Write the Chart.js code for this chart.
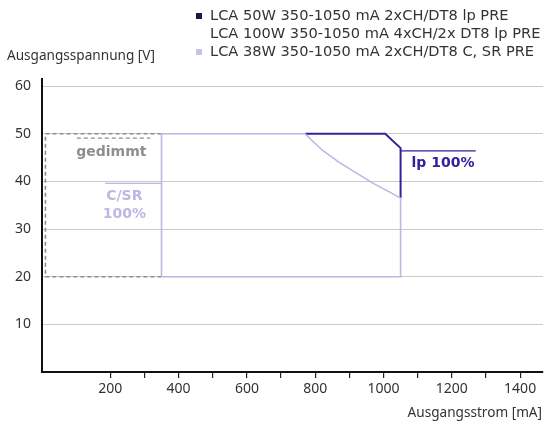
<!DOCTYPE html>
<html>
<head>
<meta charset="utf-8">
<script src="https://cdn.jsdelivr.net/npm/chart.js@4/dist/chart.umd.min.js"></script>
<style>
  body { margin: 0; background: #fff; }
  #wrap { width: 544px; height: 423px; position: relative; }
</style>
</head>
<body>
<div id="wrap"><canvas id="ivChart"></canvas></div>
<script>
// series values (x in mA, y in V)
const legendLabels = [
    'LCA 50W 350-1050 mA 2xCH/DT8 lp PRE',
    'LCA 100W 350-1050 mA 4xCH/2x DT8 lp PRE',
    'LCA 38W 350-1050 mA 2xCH/DT8 C, SR PRE'
];
const csrX = [350, 350, 770, 820, 870, 920, 970, 1020, 1050, 1050, 350];
const csrY = [20, 50, 50, 46.6, 44, 41.8, 39.6, 37.7, 36.5, 20, 20];
const lpX = [770, 1005, 1050, 1050];
const lpY = [50, 50, 47, 36.5];
const dimX = [350, 10, 10, 350];
const dimY = [50, 50, 20, 20];

// label underlines
const dimLineX = [102, 317];
const dimLineY = [49.1, 49.1];
const csrLineX = [185, 350];
const csrLineY = [39.6, 39.6];
const lpLineX = [1050, 1270];
const lpLineY = [46.4, 46.4];

// tick labels
const xTicks = [200, 300, 400, 500, 600, 700, 800, 900, 1000, 1100, 1200, 1300, 1400];
const yTicks = [10, 20, 30, 40, 50, 60];

const DARK = '#34209a';
const LAV = '#bdb7e3';
const GREY = '#8e8e8e';
const FONT = '"Noto Sans", sans-serif';
const WIDE = '"DejaVu Sans", sans-serif';

function pts(xs, ys) {
    return xs.map((x, i) => ({ x: x, y: ys[i] }));
}

function line(xs, ys, color, width, dash) {
    return {
        data: pts(xs, ys),
        showLine: true,
        borderColor: color,
        borderWidth: width,
        borderDash: dash || [],
        pointRadius: 0,
        tension: 0,
        fill: false
    };
}

// text labels and legend drawn on the canvas
const notes = [
    { text: 'gedimmt', x: 203, y: 46.2, color: GREY },
    { text: 'C/SR', x: 241, y: 36.8, color: LAV },
    { text: '100%', x: 241, y: 33.1, color: LAV },
    { text: 'lp 100%', x: 1174, y: 43.7, color: DARK }
];

const extras = {
    id: 'extras',
    afterDraw(chart) {
        const c = chart.ctx;
        const sx = chart.scales.x, sy = chart.scales.y;
        c.save();
        c.textBaseline = 'middle';
        c.font = 'bold 14px ' + WIDE;
        c.textAlign = 'center';
        notes.forEach(n => {
            c.fillStyle = n.color;
            c.fillText(n.text, sx.getPixelForValue(n.x), sy.getPixelForValue(n.y));
        });

        // legend
        c.font = '14.6px ' + WIDE;
        c.textAlign = 'left';
        const boxes = ['#1f1747', null, '#c7c2e8'];
        legendLabels.forEach((t, i) => {
            const cy = 16 + i * 18;
            if (boxes[i]) {
                c.fillStyle = boxes[i];
                c.fillRect(196, cy - 3, 6, 6);
            }
            c.fillStyle = '#333';
            c.fillText(t, 210, cy);
        });

        // axis titles
        c.font = '13.6px ' + FONT;
        c.fillStyle = '#333';
        c.fillText('Ausgangsspannung [V]', 7, 56);
        c.textAlign = 'right';
        c.fillText('Ausgangsstrom [mA]', 542, 413);
        c.restore();
    }
};

new Chart(document.getElementById('ivChart'), {
    type: 'scatter',
    data: {
        datasets: [
            line(csrX, csrY, LAV, 1.6),
            line(lpX, lpY, DARK, 2),
            line(dimX, dimY, GREY, 1.6, [4, 3]),
            line(dimLineX, dimLineY, GREY, 1.2, [4, 3]),
            line(csrLineX, csrLineY, LAV, 1.2),
            line(lpLineX, lpLineY, DARK, 1.2)
        ]
    },
    options: {
        responsive: true,
        maintainAspectRatio: false,
        animation: false,
        layout: { padding: { top: 79, right: 1, left: 0, bottom: 0 } },
        plugins: { legend: { display: false }, tooltip: { enabled: false } },
        scales: {
            x: {
                type: 'linear',
                min: 0,
                max: 1467,
                afterFit(s) { s.height = 51; },
                afterBuildTicks(s) { s.ticks = xTicks.map(v => ({ value: v })); },
                grid: { drawOnChartArea: false, color: '#222', tickLength: 6, lineWidth: 1.2 },
                border: { color: '#111', width: 2 },
                ticks: {
                    padding: 3,
                    color: '#333',
                    font: { family: FONT, size: 14 },
                    callback: v => (v % 200 === 0 ? v : '')
                }
            },
            y: {
                type: 'linear',
                min: 0,
                max: 61.5,
                afterFit(s) { s.width = 42; },
                afterBuildTicks(s) { s.ticks = yTicks.map(v => ({ value: v })); },
                grid: { color: '#cacaca', lineWidth: 1, drawTicks: false },
                border: { color: '#111', width: 2 },
                ticks: {
                    padding: 11,
                    color: '#333',
                    font: { family: FONT, size: 14 }
                }
            }
        }
    },
    plugins: [extras]
});
</script>
</body>
</html>
